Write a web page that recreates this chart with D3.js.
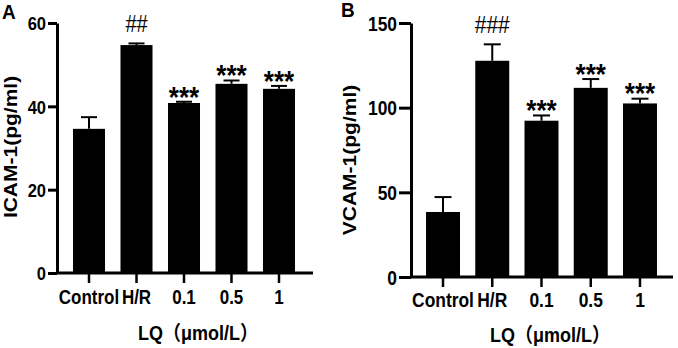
<!DOCTYPE html>
<html>
<head>
<meta charset="utf-8">
<script src="https://cdn.jsdelivr.net/npm/d3@7/dist/d3.min.js"></script>
<style>
  body { margin: 0; background: #fff; }
  svg text { font-family: "Liberation Sans", Arial, "Noto Sans CJK SC", sans-serif; font-weight: bold; fill: #000; }
</style>
</head>
<body>
<div class="chart"></div>
<script>
// groups on the x axis
var groups = ["Control", "H/R", "0.1", "0.5", "1"];

// panel A : ICAM-1
var icamMean = [34.6, 54.7, 40.8, 45.4, 44.2];
var icamErr  = [2.8, 0.4, 0.3, 0.8, 0.7];
var icamMarks = ["", "##", "***", "***", "***"];
var icamTicks = [0, 20, 40, 60];

// panel B : VCAM-1
var vcamMean = [38.4, 127.7, 92.3, 111.7, 102.5];
var vcamErr  = [8.8, 9.7, 3.1, 5.2, 2.8];
var vcamMarks = ["", "###", "***", "***", "***"];
var vcamTicks = [0, 50, 100, 150];

var svg = d3.select(".chart").append("svg")
    .attr("width", 678)
    .attr("height", 348);

var sx = 0.87; // text in the picture is a bit narrow

function drawPanel(p){
    var g = svg.append("g");

    var y = d3.scaleLinear().domain([0, p.ticks[p.ticks.length - 1]]).range([p.bottom, p.top]);
    var x = d3.scaleBand().domain(groups).range(p.xRange)
        .paddingInner(p.pad).paddingOuter(p.pad / 2);

    var data = groups.map(function(d, i){
        return {name: d, mean: p.mean[i], err: p.err[i], mark: p.marks[i]};
    });

    // bars
    g.selectAll("rect.bar")
      .data(data)
      .enter()
      .append("rect")
      .attr("class", "bar")
      .attr("x", function(d){ return x(d.name); })
      .attr("y", function(d){ return y(d.mean); })
      .attr("width", x.bandwidth())
      .attr("height", function(d){ return y(0) - y(d.mean); })
      .attr("fill", "#000");

    // error bars (upper half only shows)
    var eb = g.selectAll("g.err").data(data).enter().append("g").attr("class", "err")
      .attr("stroke", "#000").attr("stroke-width", 2);
    eb.append("line")
      .attr("x1", function(d){ return x(d.name) + x.bandwidth() / 2; })
      .attr("x2", function(d){ return x(d.name) + x.bandwidth() / 2; })
      .attr("y1", function(d){ return y(d.mean); })
      .attr("y2", function(d){ return y(d.mean + d.err); });
    eb.append("line")
      .attr("x1", function(d){ return x(d.name) + x.bandwidth() / 2 - p.cap; })
      .attr("x2", function(d){ return x(d.name) + x.bandwidth() / 2 + p.cap; })
      .attr("y1", function(d){ return y(d.mean + d.err); })
      .attr("y2", function(d){ return y(d.mean + d.err); });

    // significance marks
    g.selectAll("text.mark")
      .data(data.filter(function(d){ return d.mark !== ""; }))
      .enter()
      .append("text")
      .attr("class", "mark")
      .attr("text-anchor", "middle")
      .attr("transform", function(d){
          var cx = x(d.name) + x.bandwidth() / 2;
          var top = y(d.mean + d.err);
          var isStar = d.mark.charAt(0) === "*";
          var by = isStar ? top - 6 + 0.36 * p.starSize : top - 11;
          return "translate(" + cx + "," + by + ") scale(" + sx + ",1)";
      })
      .style("font-size", function(d){ return (d.mark.charAt(0) === "*" ? p.starSize : p.hashSize) + "px"; })
      .style("font-weight", function(d){ return d.mark.charAt(0) === "*" ? "bold" : "normal"; })
      .text(function(d){ return d.mark; });

    // y axis
    var yAxis = g.append("g")
      .attr("transform", "translate(" + p.left + ",0)")
      .call(d3.axisLeft(y).tickValues(p.ticks).tickSize(p.tick).tickSizeOuter(0).tickPadding(3));
    yAxis.select(".domain").attr("stroke-width", 3);
    yAxis.selectAll(".tick line").attr("stroke-width", 3);
    yAxis.selectAll(".tick text")
      .style("font-size", p.tickFont + "px")
      .attr("transform", "scale(" + sx + ",1)")
      .attr("x", -(p.tick + 2) / sx)
      .attr("dy", "0.36em");

    // x axis
    g.append("line")
      .attr("x1", p.left).attr("x2", p.right)
      .attr("y1", p.bottom).attr("y2", p.bottom)
      .attr("stroke", "#000").attr("stroke-width", 3);
    var xAxis = g.append("g")
      .attr("transform", "translate(0," + p.bottom + ")")
      .call(d3.axisBottom(x).tickSize(10).tickSizeOuter(0).tickPadding(4));
    xAxis.select(".domain").remove();
    xAxis.selectAll(".tick line").attr("stroke-width", 2.5);
    xAxis.selectAll(".tick text")
      .style("font-size", p.labFont + "px")
      .attr("dy", null)
      .attr("y", p.labY - p.bottom)
      .attr("x", 0)
      .attr("transform", "scale(" + sx + ",1)");

    // titles
    g.append("text")
      .attr("text-anchor", "middle")
      .attr("transform", "translate(" + p.yTitle[0] + "," + p.yTitle[1] + ") scale(0.9,1) rotate(-90)")
      .style("font-size", "21px")
      .text(p.yLabel);

    g.append("text")
      .attr("text-anchor", "middle")
      .attr("transform", "translate(" + p.xTitle[0] + "," + p.xTitle[1] + ") scale(0.9,1)")
      .style("font-size", "20px")
      .text("LQ（μmol/L）");

    g.append("text")
      .attr("transform", "translate(" + p.letter[0] + "," + p.letter[1] + ") scale(0.95,1)")
      .style("font-size", "20px")
      .text(p.name);
}

drawPanel({
    name: "A", yLabel: "ICAM-1(pg/ml)",
    mean: icamMean, err: icamErr, marks: icamMarks, ticks: icamTicks,
    top: 23, bottom: 273, left: 57, right: 313, xRange: [65.25, 302.75], pad: 0.326,
    tick: 9, cap: 8, tickFont: 19, labFont: 19.5, labY: 304, starSize: 30, hashSize: 23,
    yTitle: [17, 147], xTitle: [198, 340], letter: [2, 19]
});

drawPanel({
    name: "B", yLabel: "VCAM-1(pg/ml)",
    mean: vcamMean, err: vcamErr, marks: vcamMarks, ticks: vcamTicks,
    top: 23, bottom: 277, left: 411, right: 673, xRange: [418.4, 664.6], pad: 0.31,
    tick: 12, cap: 8.5, tickFont: 20, labFont: 20, labY: 307, starSize: 30, hashSize: 24,
    yTitle: [356, 160], xTitle: [550, 342], letter: [341, 17]
});
</script>
</body>
</html>
